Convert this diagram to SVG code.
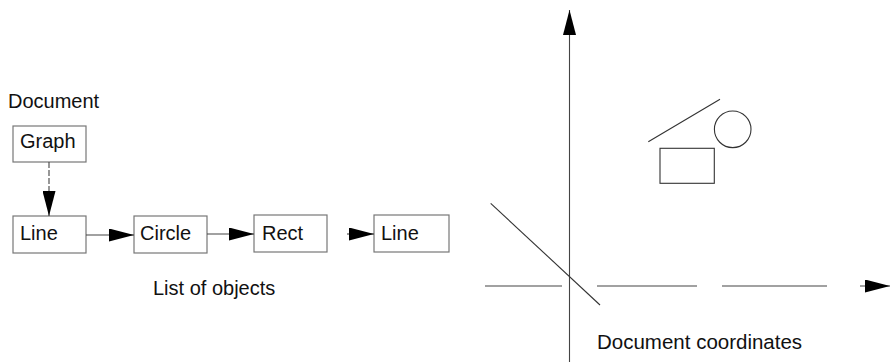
<svg xmlns="http://www.w3.org/2000/svg" width="890" height="362" viewBox="0 0 890 362">
<style>
.t{font-family:"Liberation Sans",Arial,sans-serif;font-size:20px;fill:#111}
.box{fill:#fff;stroke:#777;stroke-width:1.2}
.conn{stroke:#444;stroke-width:1.1;fill:none}
.shape{stroke:#333;stroke-width:1.1;fill:none}
</style>
<defs>
<marker id="ah" markerUnits="userSpaceOnUse" markerWidth="25" markerHeight="13" refX="25" refY="6.5" orient="auto">
<path d="M0,0 L25,6.5 L0,13 Z" fill="#000"/>
</marker>
</defs>
<rect width="890" height="362" fill="#fff"/>
<text class="t" x="8" y="108">Document</text>
<g id="graph"><rect class="box" x="13" y="126" width="73" height="36"/><text class="t" x="20" y="148">Graph</text></g>
<g id="line1"><rect class="box" x="13" y="216" width="73" height="37"/><text class="t" x="20" y="240">Line</text></g>
<g id="circle"><rect class="box" x="134" y="216" width="73" height="37"/><text class="t" x="140" y="240">Circle</text></g>
<g id="rect"><rect class="box" x="254" y="215" width="73" height="37"/><text class="t" x="262" y="240">Rect</text></g>
<g id="line2"><rect class="box" x="374" y="215" width="75" height="37"/><text class="t" x="381" y="240">Line</text></g>
<g id="connectors">
<line class="conn" x1="49" y1="162" x2="49" y2="216" stroke-dasharray="6,2" marker-end="url(#ah)"/>
<line class="conn" x1="86" y1="235" x2="134" y2="235" marker-end="url(#ah)"/>
<line class="conn" x1="207" y1="234" x2="254" y2="234" marker-end="url(#ah)"/>
<line class="conn" x1="347" y1="234" x2="374" y2="234" marker-end="url(#ah)"/>
</g>
<text class="t" x="153" y="295">List of objects</text>
<g id="axes">
<line class="conn" x1="569.5" y1="362" x2="569.5" y2="10" marker-end="url(#ah)"/>
<line class="conn" x1="485" y1="286" x2="890" y2="286" stroke-dasharray="77,35,100,25,105,33,500" marker-end="url(#ah)"/>
</g>
<g id="objects">
<line class="shape" x1="490.7" y1="203.3" x2="600" y2="305"/>
<line class="shape" x1="648.3" y1="141.7" x2="720" y2="99.3"/>
<circle class="shape" cx="732.7" cy="129.3" r="18.3" stroke="#666"/>
<rect class="shape" x="660" y="148.3" width="54.3" height="35" stroke="#555"/>
</g>
<text class="t" x="597" y="349" style="font-size:20.5px">Document coordinates</text>
</svg>
